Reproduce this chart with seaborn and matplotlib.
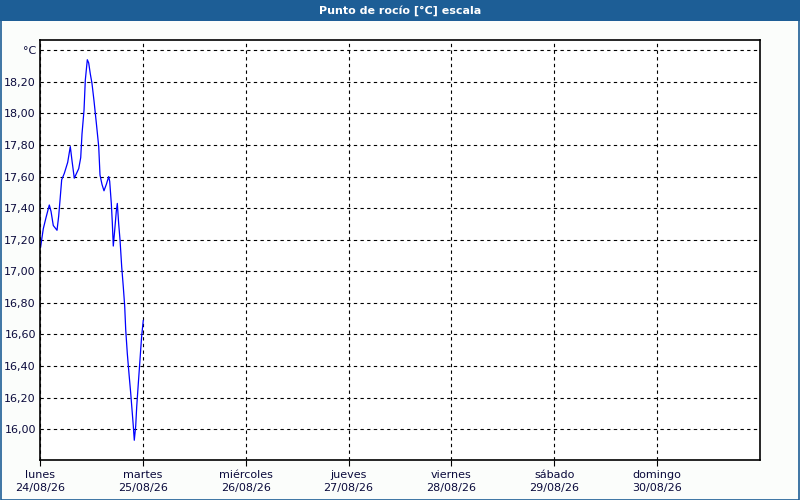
import numpy as np
import pandas as pd
import matplotlib
matplotlib.use("Agg")
import matplotlib.pyplot as plt
import seaborn as sns
from matplotlib.patches import Rectangle

# ---- data (hours since lunes 24/08/26 00:00, dew point in °C) ----
hours = [0.12, 0.77, 1.40, 2.17, 2.57, 3.10, 3.97, 4.36, 4.67, 5.06, 5.67, 6.46,
         7.07, 7.47, 8.00, 9.03, 9.50, 9.80, 10.27, 10.57, 11.04, 11.36, 11.74,
         12.13, 12.60, 13.14, 13.70, 14.00, 14.47, 14.93, 15.47, 16.03, 16.26,
         16.64, 16.87, 17.10, 17.43, 17.80, 18.04, 18.36, 18.67, 19.06, 19.44,
         19.76, 20.00, 20.37, 20.77, 21.16, 21.54, 21.77, 22.00, 22.33, 22.56,
         22.94, 23.33, 23.72, 24.10]
dew_point = [17.15, 17.27, 17.34, 17.42, 17.38, 17.29, 17.26, 17.35, 17.45, 17.58,
             17.62, 17.69, 17.79, 17.70, 17.59, 17.65, 17.72, 17.87, 18.02, 18.21,
             18.34, 18.32, 18.25, 18.19, 18.08, 17.94, 17.79, 17.61, 17.55, 17.51,
             17.55, 17.60, 17.57, 17.43, 17.31, 17.16, 17.26, 17.38, 17.43, 17.30,
             17.20, 17.03, 16.90, 16.78, 16.63, 16.48, 16.35, 16.23, 16.10, 16.02,
             15.93, 16.02, 16.14, 16.29, 16.44, 16.59, 16.69]

day_names = ["lunes", "martes", "miércoles", "jueves", "viernes", "sábado", "domingo"]
day_dates = ["24/08/26", "25/08/26", "26/08/26", "27/08/26", "28/08/26", "29/08/26", "30/08/26"]
y_ticks = [16.0, 16.2, 16.4, 16.6, 16.8, 17.0, 17.2, 17.4, 17.6, 17.8, 18.0, 18.2, 18.4]
title = "Punto de rocío [°C] escala"
unit = "°C"

df = pd.DataFrame({"h": hours, "v": dew_point})

sns.set_style("white")
plt.rcParams["font.family"] = ["DejaVu Sans"]

W, H = 800, 500
fig = plt.figure(figsize=(8, 5), dpi=100)
fig.patch.set_facecolor("#fbfdfb")

# title bar
fig.patches.append(Rectangle((0, 1 - 21 / H), 1, 21 / H, transform=fig.transFigure,
                             facecolor="#1d5e96", edgecolor="none", zorder=0))
fig.text(0.5, 1 - 10.5 / H, title, ha="center", va="center", color="white",
         fontsize=8, fontweight="bold", family=["Liberation Sans Narrow", "DejaVu Sans"])
# outer border
fig.patches.append(Rectangle((0.5 / W, 0.5 / H), 1 - 1.5 / W, 1 - 1.5 / H,
                             transform=fig.transFigure, facecolor="none",
                             edgecolor="#1d5e96", linewidth=1.2, zorder=0))

ax = fig.add_axes([40 / W, 1 - 460 / H, 720 / W, 420 / H])
ax.set_facecolor("white")

sns.lineplot(data=df, x="h", y="v", ax=ax, color="#0000ff", linewidth=0.9,
             estimator=None, sort=False)

ax.set_xlim(0, 168)
ax.set_ylim(15.805, 18.465)

ax.set_xticks([24 * i for i in range(7)])
ax.set_xticklabels([f"{n}\n{d}" for n, d in zip(day_names, day_dates)],
                   fontsize=8, color="#0a0a3c", linespacing=1.45)
ax.set_yticks(y_ticks)
ax.set_yticklabels([f"{v:.2f}".replace(".", ",") for v in y_ticks[:-1]] + [unit],
                   fontsize=8, color="#0a0a3c")

ax.tick_params(axis="x", length=4, width=0.8, color="black", pad=3, direction="out")
ax.tick_params(axis="y", length=0, pad=3)
ax.xaxis.set_ticks_position("bottom")

ax.grid(True, color="black", linestyle=(0, (3, 3)), linewidth=0.8)
ax.set_axisbelow(True)
for s in ax.spines.values():
    s.set_visible(True)
    s.set_color("black")
    s.set_linewidth(1.2)

ax.set_xlabel("")
ax.set_ylabel("")

fig.savefig("out.png", dpi=100, facecolor=fig.get_facecolor())
